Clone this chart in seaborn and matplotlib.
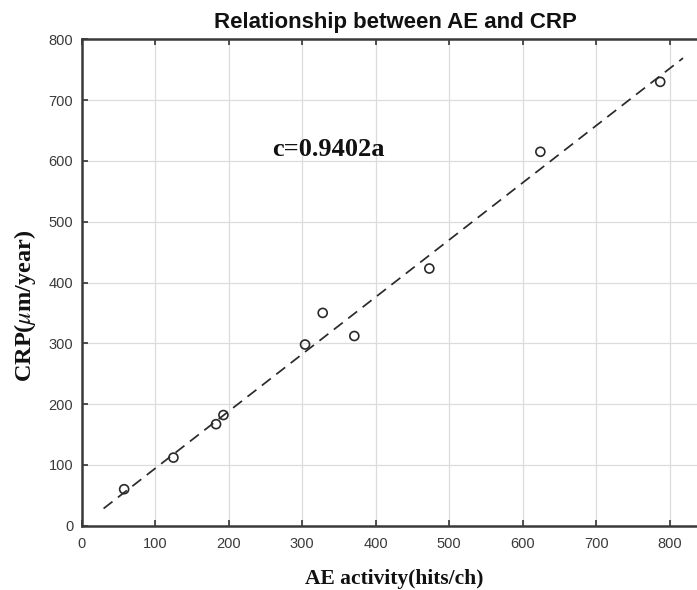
import matplotlib
matplotlib.use("Agg")
import matplotlib.pyplot as plt
import seaborn as sns
import numpy as np

# AE activity (hits/ch) and corrosion rate (CRP, um/year) for each specimen
ae_activity = [58, 125, 183, 193, 304, 328, 371, 473, 624, 787]
crp_rate = [60, 112, 167, 182, 298, 350, 312, 423, 615, 730]

# Linear relation c = k * a through the origin
slope = 0.9402
fit_x = [30, 818]
fit_y = [slope * v for v in fit_x]

x_ticks = [0, 100, 200, 300, 400, 500, 600, 700, 800]
y_ticks = [0, 100, 200, 300, 400, 500, 600, 700, 800]

sns.set_style("ticks")
plt.rcParams["font.family"] = ["Liberation Sans", "DejaVu Sans"]
plt.rcParams["mathtext.fontset"] = "stix"

fig = plt.figure(figsize=(6.97, 5.90), dpi=100)
ax = fig.add_axes([81.5 / 697, 64.3 / 590, 1 - 81.5 / 697, 486.4 / 590])

ax.grid(True, color="#dcdcdc", linewidth=0.9)
ax.set_axisbelow(True)

sns.lineplot(x=fit_x, y=fit_y, ax=ax, color="#2a2a2a", linewidth=1.25,
             linestyle=(0, (6.5, 4)), legend=False)
sns.scatterplot(x=ae_activity, y=crp_rate, ax=ax, marker="o", s=42,
                facecolors="none", edgecolors="#2a2a2a", linewidths=1.2,
                legend=False)

ax.set_xlim(0, 837)
ax.set_ylim(0, 800)
ax.set_xticks(x_ticks)
ax.set_yticks(y_ticks)
ax.tick_params(direction="in", length=4, width=1.2, colors="#333333",
               labelcolor="#3a3a3a", labelsize=10.5, top=True, right=False)
ax.tick_params(axis="x", pad=8)
ax.tick_params(axis="y", pad=6)

for side in ["left", "bottom", "top"]:
    ax.spines[side].set_visible(True)
    ax.spines[side].set_color("#3a3a3a")
    ax.spines[side].set_linewidth(1.8)
ax.spines["right"].set_visible(False)

ax.text(336, 618, "c=0.9402a", ha="center", va="center", fontsize=19,
        fontweight="bold", family="Liberation Serif", color="#111111")

fig.text(395 / 697, 1 - 28.3 / 590, "Relationship between AE and CRP",
         ha="center", va="baseline", fontsize=16, fontweight="bold",
         color="#111111")

ax.set_xlabel("")
ax.set_ylabel("")
fig.text(394 / 697, 1 - 584 / 590, "AE activity(hits/ch)", ha="center",
         va="baseline", fontsize=15.5, fontweight="bold",
         family="Liberation Serif", color="#111111")
fig.text(25 / 697, 1 - 306 / 590, r"CRP($\mu$m/year)", ha="center",
         va="center", rotation=90, fontsize=17.5, fontweight="bold",
         family="Liberation Serif", color="#111111")

fig.savefig("out.png", dpi=100)
